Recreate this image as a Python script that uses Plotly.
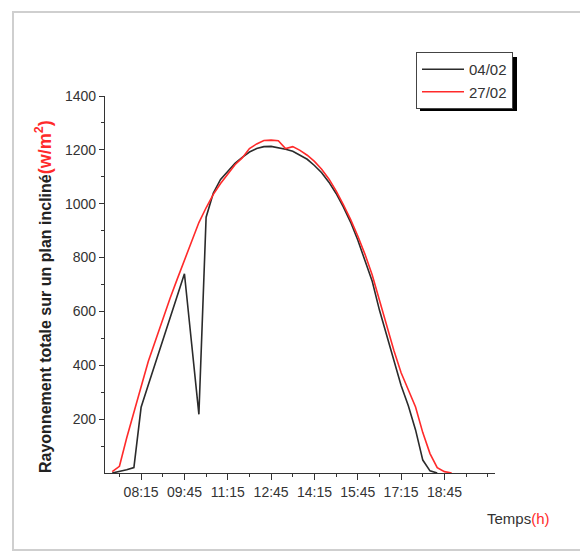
import plotly.graph_objects as go

times = ["07:15","07:30","07:45","08:00","08:15","08:30","08:45","09:00","09:15","09:30","09:45",
         "10:00","10:15","10:30","10:45","11:00","11:15","11:30","11:45","12:00","12:15","12:30",
         "12:45","13:00","13:15","13:30","13:45","14:00","14:15","14:30","14:45","15:00","15:15",
         "15:30","15:45","16:00","16:15","16:30","16:45","17:00","17:15","17:30","17:45","18:00",
         "18:15","18:30","18:45","19:00"]

rad_0402 = [0,5,12,20,244,328,412,495,578,660,740,
            479,218,950,1040,1090,1122,1150,1172,1192,1205,1212,
            1213,1208,1202,1195,1181,1165,1142,1115,1080,1038,988,
            932,865,792,712,605,512,420,325,250,160,48,
            8,0,None,None]

rad_2702 = [5,25,130,230,320,415,495,575,648,720,790,
            860,930,985,1035,1075,1112,1145,1170,1205,1222,1235,
            1236,1234,1205,1212,1198,1180,1157,1128,1092,1048,997,
            942,880,812,735,640,548,455,372,305,245,150,
            72,20,5,0]

major_labels = ["08:15","09:45","11:15","12:45","14:15","15:45","17:15","18:45"]
major_vals = [8.25 + 1.5 * i for i in range(len(major_labels))]
minor_vals = [7.5 + 1.5 * i for i in range(9)] + [20.25]

def to_h(t):
    h, m = t.split(":")
    return int(h) + int(m) / 60.0

x = [to_h(t) for t in times]

fig = go.Figure()
fig.add_trace(go.Scatter(x=x, y=rad_0402, mode="lines", name="04/02",
                         line=dict(color="#2b2b2b", width=1.6)))
fig.add_trace(go.Scatter(x=x, y=rad_2702, mode="lines", name="27/02",
                         line=dict(color="#ff2a2a", width=1.6)))

W, H = 580, 552
L, R, T, B = 105, 85, 96, 79
pw, ph = W - L - R, H - T - B

def px(v):
    return (v - L) / pw

def py(v):
    return (H - B - v) / ph

font = "Liberation Sans, Arial, sans-serif"

fig.update_layout(
    width=W, height=H,
    margin=dict(l=L, r=R, t=T, b=B),
    paper_bgcolor="white", plot_bgcolor="white",
    font=dict(family=font, color="#333333", size=14),
    showlegend=True,
    legend=dict(x=px(416), y=py(52), xanchor="left", yanchor="top",
                bgcolor="white", bordercolor="#444444", borderwidth=1,
                font=dict(size=15, color="#333333"),
                tracegroupgap=0, itemwidth=42),
    xaxis=dict(range=[7.0, 20.5], showgrid=False, zeroline=False,
               showline=True, linecolor="#333333", linewidth=1.2,
               ticks="outside", ticklen=6, tickcolor="#333333", tickwidth=1,
               tickvals=major_vals, ticktext=major_labels,
               tickfont=dict(size=14, color="#333333"),
               minor=dict(tickvals=minor_vals, ticks="outside", ticklen=3,
                          tickcolor="#333333")),
    yaxis=dict(range=[0, 1400], showgrid=False, zeroline=False,
               showline=True, linecolor="#333333", linewidth=1.2,
               ticks="outside", ticklen=5, tickcolor="#333333", tickwidth=1,
               tickvals=[200, 400, 600, 800, 1000, 1200, 1400],
               tickfont=dict(size=14, color="#333333"),
               minor=dict(tickvals=[100, 300, 500, 700, 900, 1100, 1300],
                          ticks="outside", ticklen=3, tickcolor="#333333")),
    shapes=[
        dict(type="rect", xref="paper", yref="paper",
             x0=px(13), x1=px(583), y0=py(550), y1=py(12),
             line=dict(color="#cfcfcf", width=2), layer="below"),
        dict(type="rect", xref="paper", yref="paper",
             x0=px(420), x1=px(517), y0=py(111), y1=py(57),
             fillcolor="black", line=dict(width=0), layer="below"),
    ],
    annotations=[
        dict(xref="paper", yref="paper", x=px(485), y=py(518),
             xanchor="left", yanchor="middle", showarrow=False,
             text="Temps<span style='color:#ff2a2a'>(h)</span>",
             font=dict(size=15, color="#333333", family=font)),
        dict(xref="paper", yref="paper", x=px(43), y=py(297),
             xanchor="center", yanchor="middle", showarrow=False, textangle=-90,
             text="<b>Rayonnement totale sur un plan incliné"
                  "<span style='color:#ff2a2a;font-size:18px'>(w/m<sup>2</sup>)</span></b>",
             font=dict(size=16, color="#222222", family=font)),
    ],
)

fig.write_html("out.html")
